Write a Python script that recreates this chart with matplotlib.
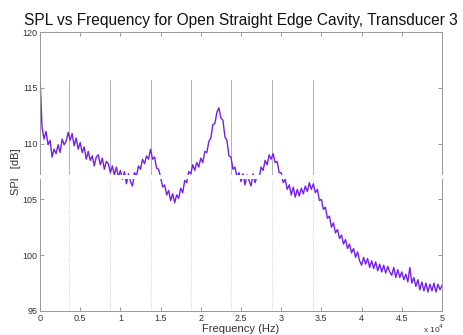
import numpy as np
import matplotlib
matplotlib.use("Agg")
import matplotlib.pyplot as plt
from matplotlib.patches import Rectangle
from matplotlib.ticker import FuncFormatter, MultipleLocator

plt.rcParams['font.family'] = ['Liberation Sans', 'DejaVu Sans']

# Sample grid (Hz)
freq = np.arange(0, 50001, 250)

# SPL values (dB), 250 Hz spacing
spl = [
    116.0, 111.5, 110.4, 111.1, 109.9, 110.3, 108.8, 109.5, 109.1, 109.9,
    109.2, 110.4, 109.9, 110.2, 111.0, 110.3, 110.9, 109.8, 110.5, 109.5,
    110.1, 109.2, 109.7, 108.6, 109.3, 108.5, 108.9, 108.0, 108.8, 109.0,
    108.1, 108.7, 107.7, 108.4, 108.2, 107.4, 108.0, 107.2, 107.9, 107.0,
    107.6, 106.8, 107.5, 106.4, 107.3, 106.6, 106.2, 107.4, 107.1, 108.0,
    107.7, 108.6, 108.2, 108.9, 108.6, 109.5, 108.6, 108.8, 107.8, 107.7,
    107.0, 106.1, 106.3, 105.4, 105.8, 104.9, 105.5, 104.7, 105.4, 105.1,
    106.0, 105.6, 106.7, 106.5, 107.5, 107.3, 108.1, 107.6, 108.3, 107.9,
    108.7, 108.3, 109.3, 109.2, 110.2, 110.5, 111.7, 111.8, 112.8, 113.2,
    112.3, 112.1, 110.6, 110.3, 108.9, 108.8, 107.7, 107.9, 107.0, 107.4,
    106.6, 107.3, 106.3, 107.2, 106.7, 106.2, 107.3, 106.5, 107.1, 106.9,
    107.9, 107.6, 108.5, 108.1, 109.0, 108.6, 109.1, 108.3, 108.4, 107.4,
    107.4, 106.5, 106.8, 105.9, 106.3, 105.4, 106.1, 105.2, 105.9, 105.3,
    106.0, 105.5, 106.2, 105.7, 106.5, 105.9, 106.4, 105.6, 105.9, 104.9,
    105.0, 104.1, 104.3, 103.3, 103.5, 102.5, 102.9, 102.0, 102.3, 101.5,
    101.8, 101.0, 101.4, 100.6, 101.0, 100.2, 100.6, 99.8, 100.3, 99.5,
    99.1, 99.8, 99.2, 99.7, 98.9, 99.5, 98.8, 99.4, 98.6, 99.2,
    98.5, 99.1, 98.4, 99.0, 98.5, 98.2, 98.9, 98.0, 98.7, 98.0,
    98.5, 97.8, 98.3, 97.6, 98.9, 97.5, 98.0, 97.2, 97.8, 96.9,
    97.6, 96.8, 97.5, 96.7, 97.4, 96.8, 97.5, 96.7, 97.4, 96.9,
    97.3,
]

# Marker lines (Hz)
marker_freqs = [3650, 8700, 13750, 18800, 23800, 28850, 33900]
marker_top = 115.7

xtick_labels = ['0', '0.5', '1', '1.5', '2', '2.5', '3', '3.5', '4', '4.5', '5']

W, H = 463, 335
fig = plt.figure(figsize=(W / 100, H / 100), dpi=100)
ax = fig.add_axes([40 / W, 1 - 311 / H, 402 / W, 279 / H])

for f in marker_freqs:
    ax.plot([f, f], [107.0, marker_top], color='#a6a6a6', lw=0.6, zorder=1)
    ax.plot([f, f], [95, 107.0], color='#c4c4c4', lw=0.6, ls=':', zorder=1)

ax.plot(freq, spl, color='#7420e8', lw=1.0, zorder=2)

ax.set_xlim(0, 50000)
ax.set_ylim(95, 120)
ax.xaxis.set_major_locator(MultipleLocator(5000))
ax.yaxis.set_major_locator(MultipleLocator(5))
ax.xaxis.set_major_formatter(FuncFormatter(
    lambda v, p: xtick_labels[int(round(v / 5000))] if 0 <= round(v / 5000) < len(xtick_labels) else ''))
ax.tick_params(direction='in', length=3, width=0.6, colors='#888888',
               labelcolor='#333333', labelsize=6.5, top=True, right=True, pad=2)
for s in ax.spines.values():
    s.set_color('#999999')
    s.set_linewidth(0.7)

ax.set_xlabel('Frequency (Hz)', fontsize=8, color='#333333', labelpad=1)
ax.set_ylabel('SPL  [dB]', fontsize=8, color='#333333', labelpad=1)
ax.set_title('SPL vs Frequency for Open Straight Edge Cavity, Transducer 3',
             fontsize=11.2, color='#111111', pad=5)
fig.text(434 / W, 1 - 329 / H, r'x 10$^4$', fontsize=6, color='#333333',
         ha='center', va='center')

# white horizontal band
fig.patches.append(Rectangle((0, 1 - 179 / H), 1, 4 / H, transform=fig.transFigure,
                             facecolor='white', edgecolor='none', zorder=10))

fig.savefig('out.png', dpi=100)
